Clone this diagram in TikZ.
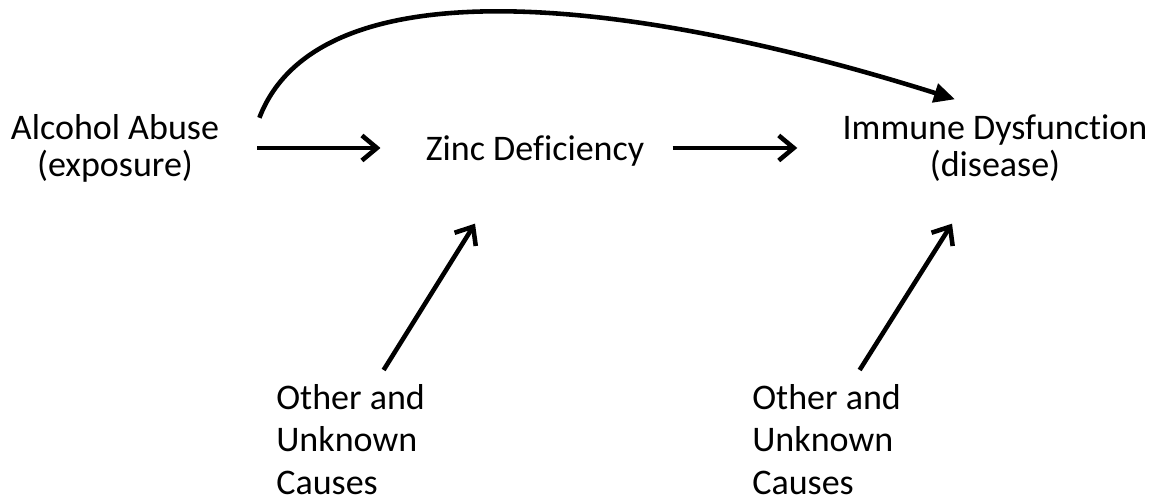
\documentclass[tikz,border=0pt]{standalone}
\usepackage{fontspec}
\setmainfont{Carlito}[Ligatures=NoCommon]
\usetikzlibrary{calc}
\usetikzlibrary{arrows.meta}
\tikzset{>=latex}
\tikzstyle{lbl} = [draw=none, inner sep = 0, align=center, font=\fontsize{20.5}{21}\selectfont]
\tikzstyle{note} = [draw=none, inner sep = 0, align=left, anchor=north west, font=\fontsize{20.5}{24.2}\selectfont]
\tikzstyle{cause} = [-{Straight Barb[length=0.3cm, width=0.5cm]}, line width=2.6pt]
\tikzstyle{direct} = [-{Triangle[length=0.42cm, width=0.38cm]}, line width=2.6pt]

\begin{document}
\begin{tikzpicture}[x=0.02cm, y=-0.02cm]
\useasboundingbox (0,0) rectangle (1156,502);
\node [lbl] (A) at (115, 148) {Alcohol Abuse\\(exposure)};
\node [lbl] (Z) at (535, 151) {Zinc Deficiency};
\node [lbl] (I) at (995, 148) {Immune Dysfunction\\(disease)};
\node [note] (U1) at (276, 384) {Other and\\Unknown\\Causes};
\node [note] (U2) at (752, 384) {Other and\\Unknown\\Causes};
\draw [cause] ($(A.east)+(38,0)$) to ($(Z.west |- A.east)+(-45,0)$);
\draw [cause] ($(Z.east |- A.east)+(28,0)$) to ($(I.west)+(-45,0)$);
\draw [cause] ($(U1.north)+(33,-14)$) to ($(Z.south)+(-60,57)$);
\draw [cause] ($(U2.north)+(33,-14)$) to ($(I.south)+(-43,42)$);
%\draw [direct] (A) to [bend left=40] (I);
\draw [direct] ($(A.north east)+(40,4)$) .. controls (320,-40) and (640,0) .. ($(I.north)+(-40,-15)$);
\end{tikzpicture}
\end{document}
